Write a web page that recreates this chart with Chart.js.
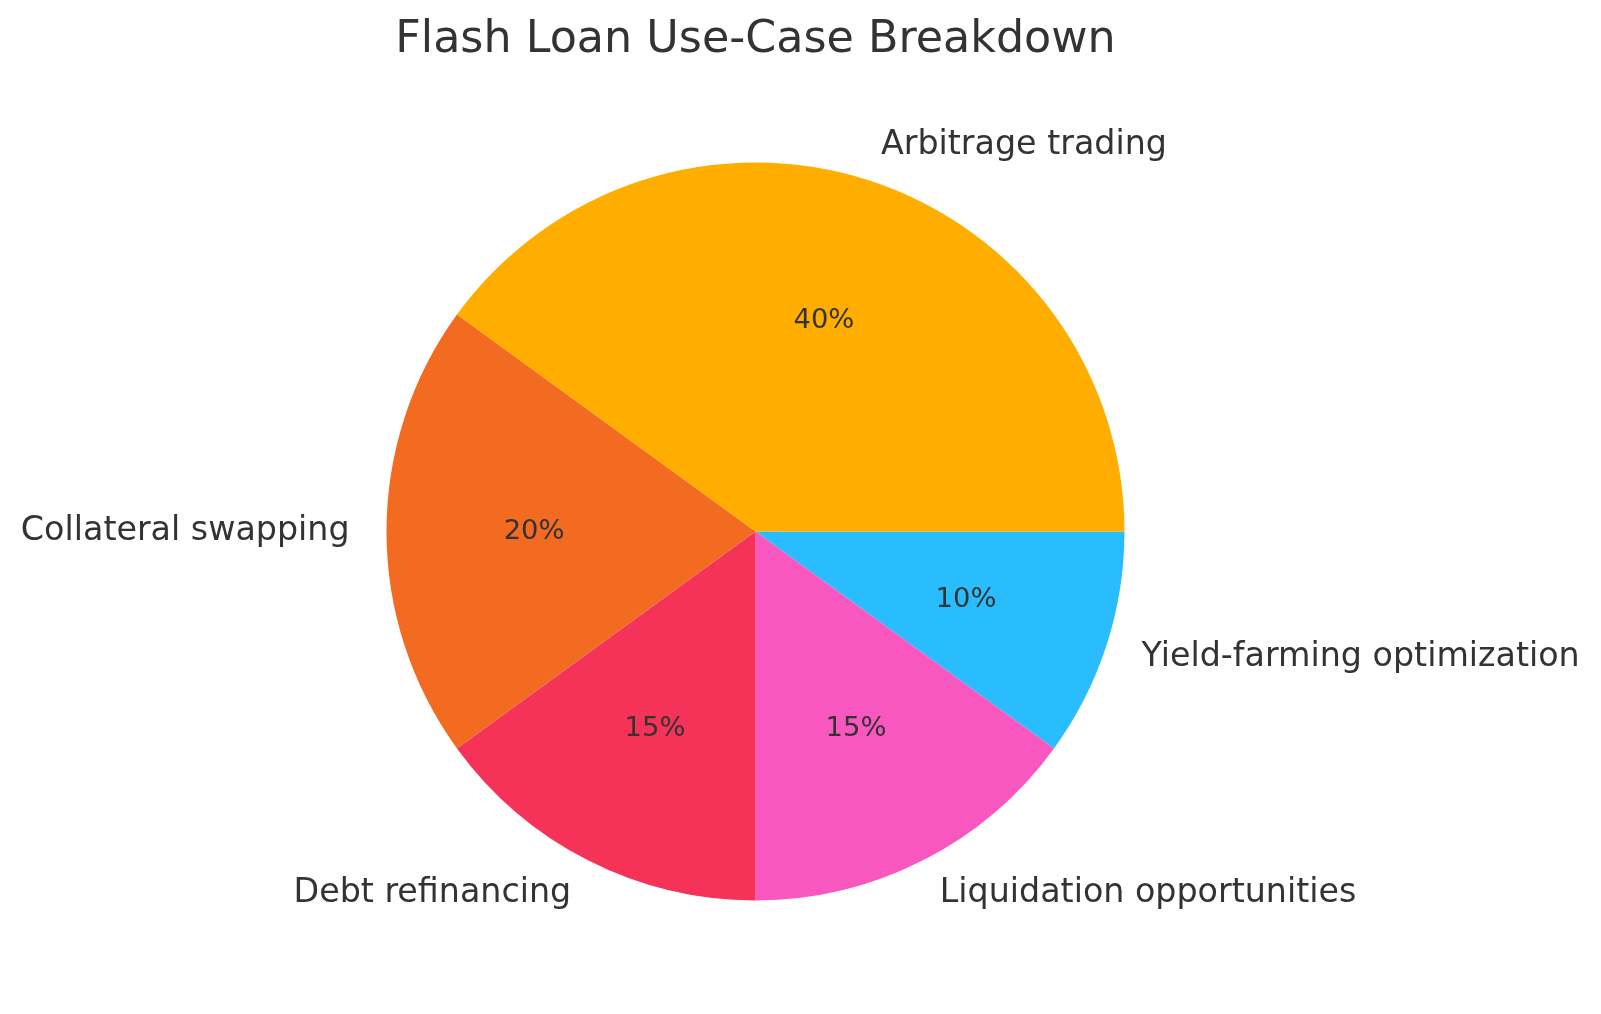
<!DOCTYPE html>
<html lang="en">
  <head>
    <meta charset="UTF-8" />
    <title>Flash Loan Use-Case Breakdown</title>
    <script src="https://cdn.jsdelivr.net/npm/chart.js"></script>
    <style>
      body {
        margin: 0;
        background: #ffffff;
      }
      #pieChart {
        display: block;
      }
    </style>
  </head>
  <body>
    <canvas id="pieChart" width="1601" height="1014"></canvas>

    <script>
      // data, in the order matplotlib draws it (counter-clockwise from 3 o'clock)
      const categories = [
        "Arbitrage trading",
        "Collateral swapping",
        "Debt refinancing",
        "Liquidation opportunities",
        "Yield-farming optimization",
      ];
      const shares = [40, 20, 15, 15, 10];
      const colors = ["#FFAE00", "#F26B21", "#F53257", "#F857C0", "#29BDFD"];

      const textColor = "#333333";
      const fontFamily = "'DejaVu Sans', sans-serif";

      // Chart.js goes clockwise, so flip the order and start at 3 o'clock
      const labels = [...categories].reverse();
      const values = [...shares].reverse();
      const sliceColors = [...colors].reverse();

      // outer labels at 1.1 r, percentages at 0.6 r (like matplotlib)
      const sliceText = {
        id: "sliceText",
        afterDatasetsDraw(chart) {
          const ctx = chart.ctx;
          const arcs = chart.getDatasetMeta(0).data;
          const total = values.reduce((a, b) => a + b, 0);
          ctx.save();
          ctx.fillStyle = textColor;
          ctx.textBaseline = "middle";
          arcs.forEach((arc, i) => {
            const p = arc.getProps(["x", "y", "startAngle", "endAngle", "outerRadius"], true);
            const mid = (p.startAngle + p.endAngle) / 2;
            const c = Math.cos(mid);
            const s = Math.sin(mid);

            ctx.font = "33.3px " + fontFamily;
            ctx.textAlign = c > 0 ? "left" : "right";
            ctx.fillText(labels[i], p.x + 1.1 * p.outerRadius * c, p.y + 1.1 * p.outerRadius * s);

            ctx.font = "27.4px " + fontFamily;
            ctx.textAlign = "center";
            const pct = Math.round((values[i] / total) * 100) + "%";
            ctx.fillText(pct, p.x + 0.6 * p.outerRadius * c, p.y + 0.6 * p.outerRadius * s);
          });
          ctx.restore();
        },
      };

      new Chart(document.getElementById("pieChart"), {
        type: "pie",
        data: {
          labels,
          datasets: [
            {
              data: values,
              backgroundColor: sliceColors,
              borderWidth: 0,
            },
          ],
        },
        options: {
          responsive: false,
          devicePixelRatio: 1,
          animation: false,
          rotation: 90,
          layout: {
            padding: { left: 386.5, right: 476.5, top: 0, bottom: 113.5 },
          },
          plugins: {
            legend: { display: false },
            tooltip: { enabled: false },
            title: {
              display: true,
              text: "Flash Loan Use-Case Breakdown",
              color: textColor,
              font: { family: fontFamily, size: 44.4, weight: "normal", lineHeight: 1.2 },
              padding: { top: 13.7, bottom: 95.5 },
            },
          },
        },
        plugins: [sliceText],
      });
    </script>
  </body>
</html>
